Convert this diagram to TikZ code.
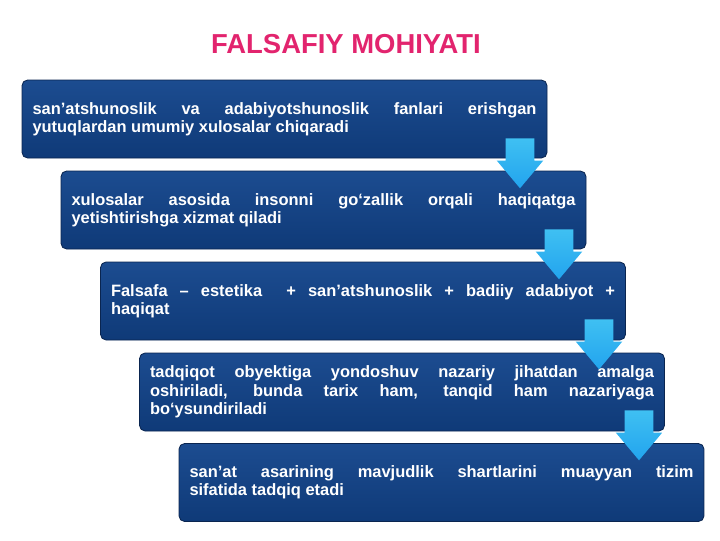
\documentclass[tikz,border=0pt]{standalone}
\usepackage{fontspec}
\setmainfont{Liberation Sans}
\usetikzlibrary{shapes.arrows}
\definecolor{boxblue}{HTML}{0F3A78}
\definecolor{boxtop}{HTML}{1C4C90}
\definecolor{boxline}{HTML}{0A2550}
\definecolor{arrowblue}{HTML}{22A4EE}
\definecolor{arrowtop}{HTML}{3FC0F2}
\definecolor{titlepink}{HTML}{E2246E}
\hyphenpenalty=10000
\tikzset{
  stepbox/.style={draw=boxline, line width=0.6pt, rounded corners=4pt,
    top color=boxtop, bottom color=boxblue,
    minimum width=525*0.025cm, minimum height=78*0.025cm,
    text width=504*0.025cm, align=justify, inner sep=0pt, text=white,
    font=\fontsize{11.7}{13}\selectfont\bfseries},
  downarrow/.style={single arrow, shape border rotate=270, draw=none,
    top color=arrowtop, bottom color=arrowblue, anchor=north,
    minimum height=50*0.025cm, inner sep=14*0.025cm,
    single arrow head extend=9*0.025cm, single arrow tip angle=80}
}
\begin{document}
\begin{tikzpicture}[x=0.025cm, y=-0.025cm]
\useasboundingbox (0,0) rectangle (720,540);

% sarlavha
\node (title) [text=titlepink, font=\fontsize{19.5}{22}\selectfont\bfseries] at (346,44) {FALSAFIY MOHIYATI};

\node (b1) [stepbox] at (284.5,119) {san’atshunoslik va adabiyotshunoslik fanlari erishgan \linebreak yutuqlardan umumiy xulosalar chiqaradi};
\node (b2) [stepbox] at (323.5,210) {xulosalar asosida insonni go‘zallik orqali haqiqatga \linebreak yetishtirishga xizmat qiladi};
\node (b3) [stepbox] at (363,301) {Falsafa – estetika\ \ + san’atshunoslik + badiiy adabiyot + \linebreak haqiqat};
\node (b4) [stepbox] at (402,392) {tadqiqot obyektiga yondoshuv nazariy jihatdan amalga \linebreak oshiriladi, bunda tarix ham, tanqid ham nazariyaga \linebreak bo‘ysundiriladi};
\node (b5) [stepbox] at (441.5,482.5) {san’at asarining mavjudlik shartlarini muayyan tizim \linebreak sifatida tadqiq etadi};

% strelkalar
\node (a1) [downarrow] at (520,138) {};
\node (a2) [downarrow] at (559,229) {};
\node (a3) [downarrow] at (599,319) {};
\node (a4) [downarrow] at (639,410) {};

\end{tikzpicture}
\end{document}
